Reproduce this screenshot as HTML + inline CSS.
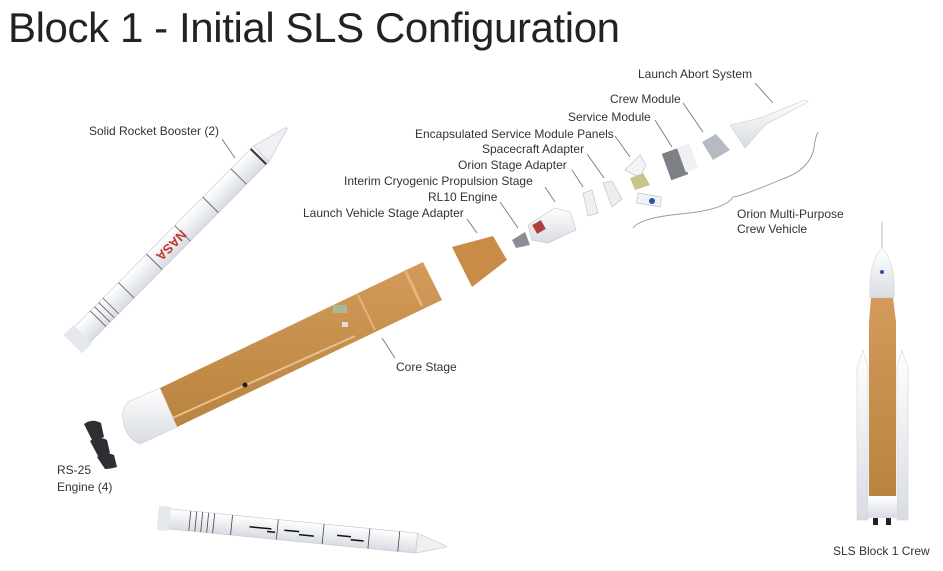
<!DOCTYPE html>
<html><head><meta charset="utf-8"><style>
html,body{margin:0;padding:0;background:#fff;}
svg{display:block;}
text{font-family:"Liberation Sans",sans-serif;fill:#333;}
</style></head><body>
<svg width="943" height="571" viewBox="0 0 943 571" xmlns="http://www.w3.org/2000/svg">
<defs>
<linearGradient id="org" x1="0" y1="0" x2="0" y2="1">
<stop offset="0" stop-color="#d49a5a"/><stop offset="1" stop-color="#b9843f"/></linearGradient>
<linearGradient id="wht" x1="0" y1="0" x2="0" y2="1">
<stop offset="0" stop-color="#ffffff"/><stop offset="1" stop-color="#d8dce2"/></linearGradient>
</defs>
<text x="8" y="42" font-size="42" textLength="612" style="fill:#222">Block 1 - Initial SLS Configuration</text>

<!-- upper SRB -->
<g transform="translate(77,340) rotate(-45.3)">
<rect x="0" y="-11" width="262" height="22" fill="url(#wht)" stroke="#c8ccd2" stroke-width="0.7"/>
<polygon points="262,-11 298,-1 298,1 262,11" fill="#eef0f3" stroke="#c8ccd2" stroke-width="0.7"/>
<rect x="-6" y="-13" width="14" height="26" fill="#e4e7eb"/>
<g stroke="#555" stroke-width="0.8">
<line x1="30" y1="-11" x2="30" y2="11"/><line x1="36" y1="-11" x2="36" y2="11"/><line x1="42" y1="-11" x2="42" y2="11"/><line x1="48" y1="-11" x2="48" y2="11"/>
<line x1="70" y1="-11" x2="70" y2="11"/><line x1="110" y1="-11" x2="110" y2="11"/><line x1="150" y1="-11" x2="150" y2="11"/><line x1="190" y1="-11" x2="190" y2="11"/><line x1="230" y1="-11" x2="230" y2="11"/>
<line x1="258" y1="-11" x2="258" y2="11" stroke="#333" stroke-width="2"/>
</g>
<text x="118" y="4" font-size="13" font-weight="bold" style="fill:#c0392b" transform="rotate(180 135 0)">NASA</text>
</g>

<!-- Core stage -->
<polygon points="160,388 423,262 442,300 177,427" fill="url(#org)"/>
<line x1="358" y1="295" x2="375" y2="330" stroke="#e2b57e" stroke-width="2"/>
<line x1="405" y1="270" x2="422" y2="306" stroke="#e2b57e" stroke-width="3"/>
<line x1="168" y1="420" x2="355" y2="336" stroke="#e8c08c" stroke-width="2"/>
<rect x="333" y="305" width="14" height="8" fill="#a8b898"/>
<rect x="342" y="322" width="6" height="5" fill="#ddd"/>
<path d="M160,388 L177,427 L140,444 Q128,440 124,425 Q120,410 128,402 Z" fill="url(#wht)" stroke="#ccc" stroke-width="0.6"/>
<circle cx="245" cy="385" r="2.5" fill="#222"/>

<!-- RS-25 engines -->
<g fill="#2e2f33">
<path d="M84,424 Q92,418 101,423 L104,437 Q97,440 92,440 Z"/>
<path d="M90,441 Q98,435 107,440 L110,453 Q103,456 98,456 Z"/>
<path d="M97,457 Q105,451 114,455 L117,467 Q110,469 105,469 Z"/>
</g>

<!-- lower SRB -->
<g transform="translate(160,517) rotate(5.6)">
<rect x="0" y="-9" width="258" height="20" fill="url(#wht)" stroke="#c8ccd2" stroke-width="0.7"/>
<polygon points="258,-9 288,1 288,2 258,11" fill="#eef0f3" stroke="#c8ccd2" stroke-width="0.7"/>
<rect x="-2" y="-11" width="12" height="24" fill="#e4e7eb"/>
<g stroke="#444" stroke-width="0.8">
<line x1="30" y1="-9" x2="30" y2="11"/><line x1="36" y1="-9" x2="36" y2="11"/><line x1="42" y1="-9" x2="42" y2="11"/><line x1="48" y1="-9" x2="48" y2="11"/><line x1="54" y1="-9" x2="54" y2="11"/>
<line x1="72" y1="-9" x2="72" y2="11"/><line x1="118" y1="-9" x2="118" y2="11"/><line x1="164" y1="-9" x2="164" y2="11"/><line x1="210" y1="-9" x2="210" y2="11"/><line x1="240" y1="-9" x2="240" y2="11"/>
</g>
<g stroke="#111" stroke-width="1.5">
<line x1="90" y1="1" x2="112" y2="1"/><line x1="108" y1="4" x2="116" y2="4"/>
<line x1="125" y1="1" x2="140" y2="1"/><line x1="140" y1="4" x2="155" y2="4"/>
<line x1="178" y1="1" x2="192" y2="1"/><line x1="192" y1="4" x2="205" y2="4"/>
</g>
</g>

<!-- LVSA -->
<polygon points="452,247 493,236 507,260 472,287" fill="#c88b48"/>

<!-- RL10 -->
<polygon points="512,240 525,232 530,245 516,248" fill="#8a8d93"/>
<!-- ICPS -->
<polygon points="528,225 555,208 570,212 576,230 548,243 532,240" fill="url(#wht)" stroke="#c0c4ca" stroke-width="0.6"/>
<rect x="534" y="222" width="10" height="10" fill="#b04040" transform="rotate(-30 539 227)"/>
<!-- OSA -->
<polygon points="583,193 592,190 598,213 588,216" fill="#eef0f3" stroke="#bbb" stroke-width="0.6"/>
<!-- spacecraft adapter -->
<polygon points="603,183 612,181 622,199 612,207" fill="#eceef1" stroke="#bbb" stroke-width="0.6"/>
<!-- ESM panels -->
<polygon points="625,170 640,155 646,165 640,178" fill="#f3f4f6" stroke="#bbb" stroke-width="0.6"/>
<polygon points="630,178 643,173 650,185 635,190" fill="#c9c58a"/>
<rect x="637" y="195" width="24" height="10" fill="#f0f2f5" stroke="#bbb" stroke-width="0.6" transform="rotate(10 649 200)"/>
<circle cx="652" cy="201" r="3" fill="#2855a8"/>
<!-- service module -->
<rect x="666" y="150" width="18" height="28" fill="#7d8087" transform="rotate(-20 675 164)"/>
<rect x="681" y="145" width="13" height="26" fill="#f0f1f4" transform="rotate(-20 687 158)"/>
<!-- crew module -->
<polygon points="702,142 716,134 730,150 713,160" fill="#b6bbc3"/>
<!-- LAS -->
<polygon points="730,125 760,118 805,100 808,102 765,125 745,148" fill="url(#wht)" stroke="#c8ccd2" stroke-width="0.6"/>

<!-- SLS right -->
<polygon points="881,222 883,222 883,248 881,248" fill="#ddd"/>
<path d="M870,298 Q868,262 882,248 Q896,262 894,298 Z" fill="url(#wht)" stroke="#ccc" stroke-width="0.5"/>
<circle cx="882" cy="272" r="2" fill="#2855a8"/>
<polygon points="871,298 893,298 896,322 896,496 869,496 869,322" fill="url(#org)"/>
<path d="M857,367 Q862,355 863,350 Q864,355 868,367 L868,520 L857,520 Z" fill="url(#wht)" stroke="#ccc" stroke-width="0.5"/>
<path d="M897,367 Q901,355 902,350 Q903,355 908,367 L908,520 L897,520 Z" fill="url(#wht)" stroke="#ccc" stroke-width="0.5"/>
<rect x="868" y="496" width="29" height="22" fill="url(#wht)"/>
<rect x="873" y="518" width="5" height="7" fill="#222"/><rect x="886" y="518" width="5" height="7" fill="#222"/>

<!-- leader lines -->
<g stroke="#777" stroke-width="0.9" fill="none">
<line x1="755" y1="83" x2="773" y2="103"/>
<line x1="683" y1="103" x2="703" y2="132"/>
<line x1="655" y1="120" x2="672" y2="147"/>
<line x1="615" y1="136" x2="630" y2="157"/>
<line x1="587" y1="154" x2="604" y2="178"/>
<line x1="572" y1="170" x2="583" y2="187"/>
<line x1="545" y1="187" x2="555" y2="202"/>
<line x1="500" y1="202" x2="518" y2="228"/>
<line x1="467" y1="219" x2="477" y2="233"/>
<line x1="382" y1="338" x2="395" y2="358"/>
<line x1="222" y1="139" x2="235" y2="158"/>
<path d="M633,228 Q640,218 680,214 Q725,210 733,197 Q742,196 780,180 Q810,170 814,148 Q815,138 818,132" stroke="#999"/>
</g>

<g font-size="12">
<text x="638" y="78">Launch Abort System</text>
<text x="610" y="103">Crew Module</text>
<text x="568" y="121">Service Module</text>
<text x="415" y="138">Encapsulated Service Module Panels</text>
<text x="482" y="153">Spacecraft Adapter</text>
<text x="458" y="169">Orion Stage Adapter</text>
<text x="344" y="185">Interim Cryogenic Propulsion Stage</text>
<text x="428" y="201">RL10 Engine</text>
<text x="303" y="217">Launch Vehicle Stage Adapter</text>
<text x="737" y="218">Orion Multi-Purpose</text>
<text x="737" y="233">Crew Vehicle</text>
<text x="89" y="135">Solid Rocket Booster (2)</text>
<text x="396" y="371">Core Stage</text>
<text x="57" y="474">RS-25</text>
<text x="57" y="491">Engine (4)</text>
<text x="833" y="555">SLS Block 1 Crew</text>
</g>
</svg>
</body></html>
